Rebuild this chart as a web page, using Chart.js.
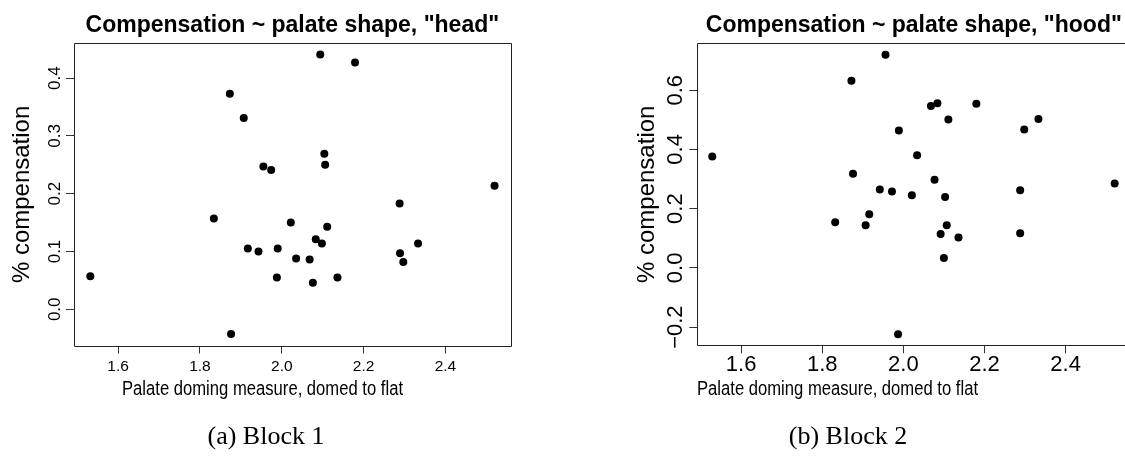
<!DOCTYPE html>
<html><head><meta charset="utf-8">
<script src="https://cdn.jsdelivr.net/npm/chart.js@4.4.1/dist/chart.umd.min.js"></script>
<style>
html,body{margin:0;padding:0;background:#fff;overflow:hidden;width:1125px;height:459px;}
#wrapA{position:absolute;left:0;top:0;width:560px;height:459px;}
#wrapB{position:absolute;left:560px;top:0;width:600px;height:459px;}
.cap{position:absolute;font-family:'Liberation Serif','Times New Roman',serif;font-size:26px;color:#000;white-space:nowrap;transform:translateX(-50%);line-height:1;}
</style></head><body>
<div id="wrapA"><canvas id="cA" width="560" height="459"></canvas></div>
<div id="wrapB"><canvas id="cB" width="600" height="459"></canvas></div>
<div class="cap" style="left:266px;top:423px">(a) Block 1</div>
<div class="cap" style="left:848px;top:423px">(b) Block 2</div>
<script>
// ---- data ----
const headX = [2.094,2.179,1.873,1.907,1.955,1.974,2.104,2.106,2.520,2.288,1.834,2.022,2.111,2.083,2.098,2.333,1.917,1.990,1.943,2.289,2.035,2.068,2.297,1.532,1.988,2.136,2.076,1.876];
const headY = [0.441,0.427,0.373,0.331,0.247,0.241,0.269,0.250,0.214,0.183,0.157,0.150,0.143,0.121,0.114,0.114,0.105,0.105,0.100,0.097,0.088,0.086,0.082,0.057,0.055,0.055,0.046,-0.043];
const hoodX = [1.956,1.872,2.068,2.084,2.180,2.111,2.333,1.989,2.298,1.529,2.034,1.876,2.077,2.521,1.942,1.972,2.021,2.288,2.103,1.916,1.832,1.907,2.107,2.092,2.136,2.288,2.100,1.987];
const hoodY = [0.720,0.632,0.547,0.556,0.554,0.501,0.503,0.464,0.467,0.376,0.380,0.318,0.298,0.285,0.265,0.258,0.245,0.262,0.239,0.181,0.154,0.144,0.144,0.114,0.103,0.117,0.033,-0.224];
const xTicks = [1.6, 1.8, 2.0, 2.2, 2.4];
const headYTicks = [0.0, 0.1, 0.2, 0.3, 0.4];
const hoodYTicks = [-0.2, 0.0, 0.2, 0.4, 0.6];
const xRange = [1.4921, 2.5595];
const headYRange = [-0.0627, 0.4604];
const hoodYRange = [-0.2614, 0.7583];
const titles = ['Compensation ~ palate shape, "head"', 'Compensation ~ palate shape, "hood"'];
const xLabel = 'Palate doming measure, domed to flat';
const yLabel = '% compensation';

function fmt(v){ const s = (Math.abs(v) < 1e-9 ? 0 : v).toFixed(1); return s.replace('-', '\u2212'); }
const SANS = '"Liberation Sans", Arial, Helvetica, sans-serif';

const rframe = {
  id: 'rframe',
  afterDraw(chart) {
    const o = chart.options.plugins.rframe;
    const {ctx, chartArea: a} = chart;
    const x = chart.scales.x, y = chart.scales.y;
    ctx.save();
    ctx.strokeStyle = '#222'; ctx.lineWidth = 1;
    const L = Math.round(a.left)+0.5, T = Math.round(a.top)+0.5, R = Math.round(a.right)+0.5, B = Math.round(a.bottom)+0.5;
    ctx.beginPath(); ctx.moveTo(L,T); ctx.lineTo(R,T); ctx.lineTo(R,B); ctx.lineTo(L,B); ctx.closePath(); ctx.stroke();
    ctx.fillStyle = '#000';
    // tick labels
    ctx.font = o.tickSize + 'px ' + SANS;
    ctx.textAlign = 'center'; ctx.textBaseline = 'alphabetic';
    x.ticks.forEach(t => ctx.fillText(fmt(t.value), x.getPixelForValue(t.value), o.xTickBase));
    ctx.font = o.yTickSize + 'px ' + SANS;
    y.ticks.forEach(t => {
      ctx.save(); ctx.translate(o.yTickBase, y.getPixelForValue(t.value)); ctx.rotate(-Math.PI/2);
      ctx.fillText(fmt(t.value), 0, 0); ctx.restore();
    });
    // main title
    ctx.font = 'bold ' + o.titleSize + 'px ' + SANS;
    ctx.fillText(o.title, (a.left + a.right)/2, o.titleBase);
    // x axis title (narrow)
    ctx.font = o.labSize + 'px ' + SANS;
    ctx.textAlign = 'left';
    const w = ctx.measureText(xLabel).width;
    ctx.save(); ctx.translate(o.xLabLeft, o.xLabBase); ctx.scale(o.xLabWidth / w, 1);
    ctx.fillText(xLabel, 0, 0); ctx.restore();
    // y axis title
    ctx.font = o.yLabSize + 'px ' + SANS;
    ctx.textAlign = 'center';
    ctx.save(); ctx.translate(o.yLabBase, (a.top + a.bottom)/2); ctx.rotate(-Math.PI/2);
    ctx.fillText(yLabel, 0, 0); ctx.restore();
    ctx.restore();
  }
};

function makeChart(id, xs, ys, yTicks, yRange, pad, o) {
  const pts = xs.map((v, i) => ({x: v, y: ys[i]}));
  return new Chart(document.getElementById(id), {
    type: 'scatter',
    data: { datasets: [{ data: pts, backgroundColor: '#000', borderWidth: 0, pointRadius: 4, pointHoverRadius: 4 }] },
    options: {
      responsive: false, animation: false,
      layout: { padding: pad },
      plugins: { legend: {display: false}, tooltip: {enabled: false}, rframe: o },
      scales: {
        x: { type: 'linear', min: xRange[0], max: xRange[1],
             afterBuildTicks: s => { s.ticks = xTicks.map(v => ({value: v})); },
             afterFit: s => { s.height = 20; },
             ticks: { display: false },
             grid: { display: true, drawOnChartArea: false, drawTicks: true, tickLength: 8, color: '#333', lineWidth: 1 },
             border: { display: false } },
        y: { type: 'linear', min: yRange[0], max: yRange[1],
             afterBuildTicks: s => { s.ticks = yTicks.map(v => ({value: v})); },
             afterFit: s => { s.width = 20; },
             ticks: { display: false },
             grid: { display: true, drawOnChartArea: false, drawTicks: true, tickLength: 8, color: '#333', lineWidth: 1 },
             border: { display: false } }
      }
    },
    plugins: [rframe]
  });
}

makeChart('cA', headX, headY, headYTicks, headYRange,
  {left: 54, right: 49.3, top: 43.3, bottom: 93.5},
  {title: titles[0], titleSize: 23, titleBase: 32, tickSize: 15.5, yTickSize: 17, xTickBase: 371, yTickBase: 60,
   labSize: 20, xLabLeft: 122, xLabBase: 395, xLabWidth: 281, yLabSize: 24, yLabBase: 29});

makeChart('cB', hoodX, hoodY, hoodYTicks, hoodYRange,
  {left: 117.3, right: 29.7, top: 43.3, bottom: 93.7},
  {title: titles[1], titleSize: 23, titleBase: 32, tickSize: 22, yTickSize: 22, xTickBase: 371, yTickBase: 121.7,
   labSize: 20, xLabLeft: 137, xLabBase: 395, xLabWidth: 281, yLabSize: 24, yLabBase: 94});
</script>
</body></html>
